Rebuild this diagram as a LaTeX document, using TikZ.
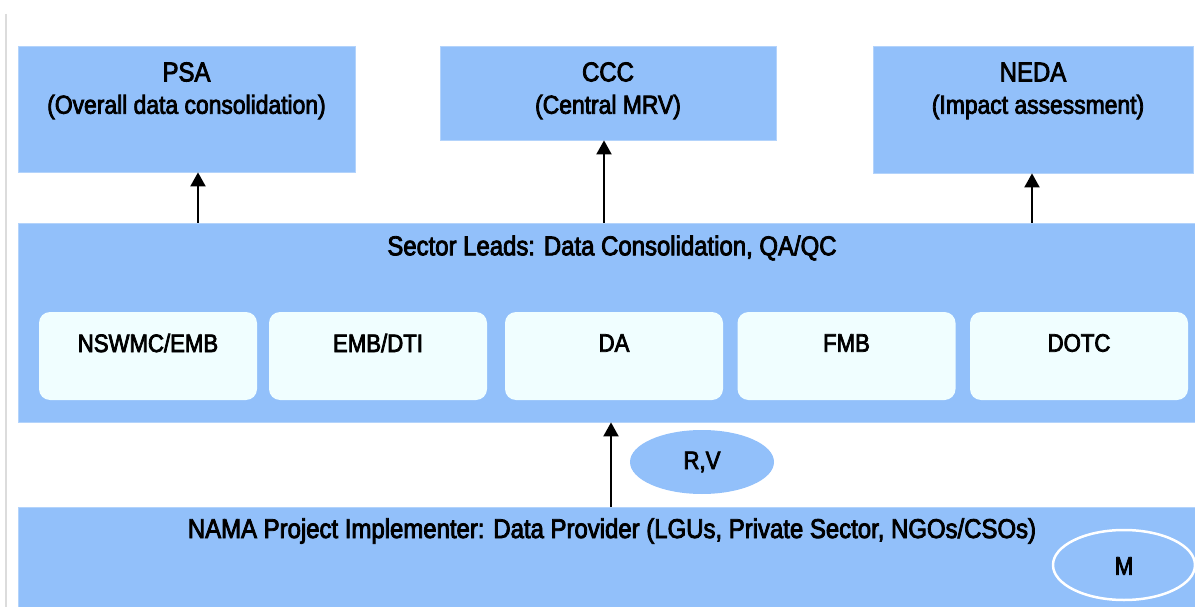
\documentclass[tikz,border=0pt]{standalone}
\usepackage{fontspec}
\setmainfont{Liberation Sans}[FakeStretch=0.88,FakeBold=3]
\usetikzlibrary{arrows.meta,shapes.geometric}
\definecolor{band}{RGB}{146,192,250}
\definecolor{inner}{RGB}{240,254,255}
\definecolor{edge}{RGB}{220,220,220}
\tikzset{
  bluebox/.style={draw=band!70!white, line width=0.8pt, fill=band, rectangle, inner sep=0pt},
  subbox/.style={fill=inner, rectangle, rounded corners=11pt, inner sep=0pt, minimum width=218pt, minimum height=88pt},
  txt/.style={font=\fontsize{27.2}{35}\selectfont, inner sep=0pt, align=center},
  subtxt/.style={font=\fontsize{26}{35}\selectfont, inner sep=0pt, align=center},
  smalltxt/.style={font=\fontsize{25.2}{35}\selectfont, inner sep=0pt, align=center},
  arr/.style={-{Triangle[width=15pt,length=14pt]}, line width=2pt, black},
  oval/.style={ellipse, inner sep=0pt}
}
\begin{document}
\begin{tikzpicture}[x=1pt,y=-1pt]
\useasboundingbox (0,0) rectangle (1195,607);
\draw[edge, line width=1.2pt] (6,14) -- (6,607);
% top boxes
\node[bluebox, minimum width=337pt, minimum height=126pt] (psa) at (186.5,109) {};
\node[bluebox, minimum width=336pt, minimum height=94pt] (ccc) at (608,93) {};
\node[bluebox, minimum width=320pt, minimum height=127pt] (neda) at (1033,109.5) {};
\node[txt] (psat) at (186.5,72) {PSA};
\node[subtxt] (psas) at (186.5,107) {(Overall data consolidation)};
\node[txt] (ccct) at (608,72) {CCC};
\node[subtxt] (cccs) at (608,107) {(Central MRV)};
\node[txt] (nedat) at (1033,72) {NEDA};
\node[subtxt] (nedas) at (1038,107) {(Impact assessment)};
% sector band
\node[bluebox, minimum width=1177pt, minimum height=199pt] (sector) at (606.5,322.5) {};
\node[txt] (sectort) at (612,248) {Sector Leads: Data Consolidation, QA/QC};
\node[subbox] (nsw) at (148,356) {};
\node[subbox] (emb) at (378,356) {};
\node[subbox] (da) at (614,356) {};
\node[subbox] (fmb) at (846.5,356) {};
\node[subbox] (dotc) at (1079,356) {};
\node[smalltxt] at (148,343) {NSWMC/EMB};
\node[smalltxt] at (378,343) {EMB/DTI};
\node[smalltxt] at (614,343) {DA};
\node[smalltxt] at (846.5,343) {FMB};
\node[smalltxt] at (1079,343) {DOTC};
% bottom band
\node[bluebox, minimum width=1177pt, minimum height=100pt] (nama) at (606.5,557) {};
\node[txt] (namat) at (612,531) {NAMA Project Implementer: Data Provider (LGUs, Private Sector, NGOs/CSOs)};
% ellipses
\node[oval, fill=band, minimum width=144pt, minimum height=64pt] (rv) at (702,462) {};
\node[smalltxt] at (rv) {R,V};
\node[oval, draw=white, line width=2.5pt, minimum width=142pt, minimum height=70pt] (m) at (1124,565) {};
\node[smalltxt] at (1124,566) {M};
% arrows
\coordinate (xa) at (198,0);
\coordinate (xb) at (604,0);
\coordinate (xc) at (1032,0);
\coordinate (xd) at (611,0);
\draw[arr] (sector.north -| xa) -- (psa.south -| xa);
\draw[arr] (sector.north -| xb) -- (ccc.south -| xb);
\draw[arr] (sector.north -| xc) -- (neda.south -| xc);
\draw[arr] (nama.north -| xd) -- (sector.south -| xd);
\end{tikzpicture}
\end{document}
